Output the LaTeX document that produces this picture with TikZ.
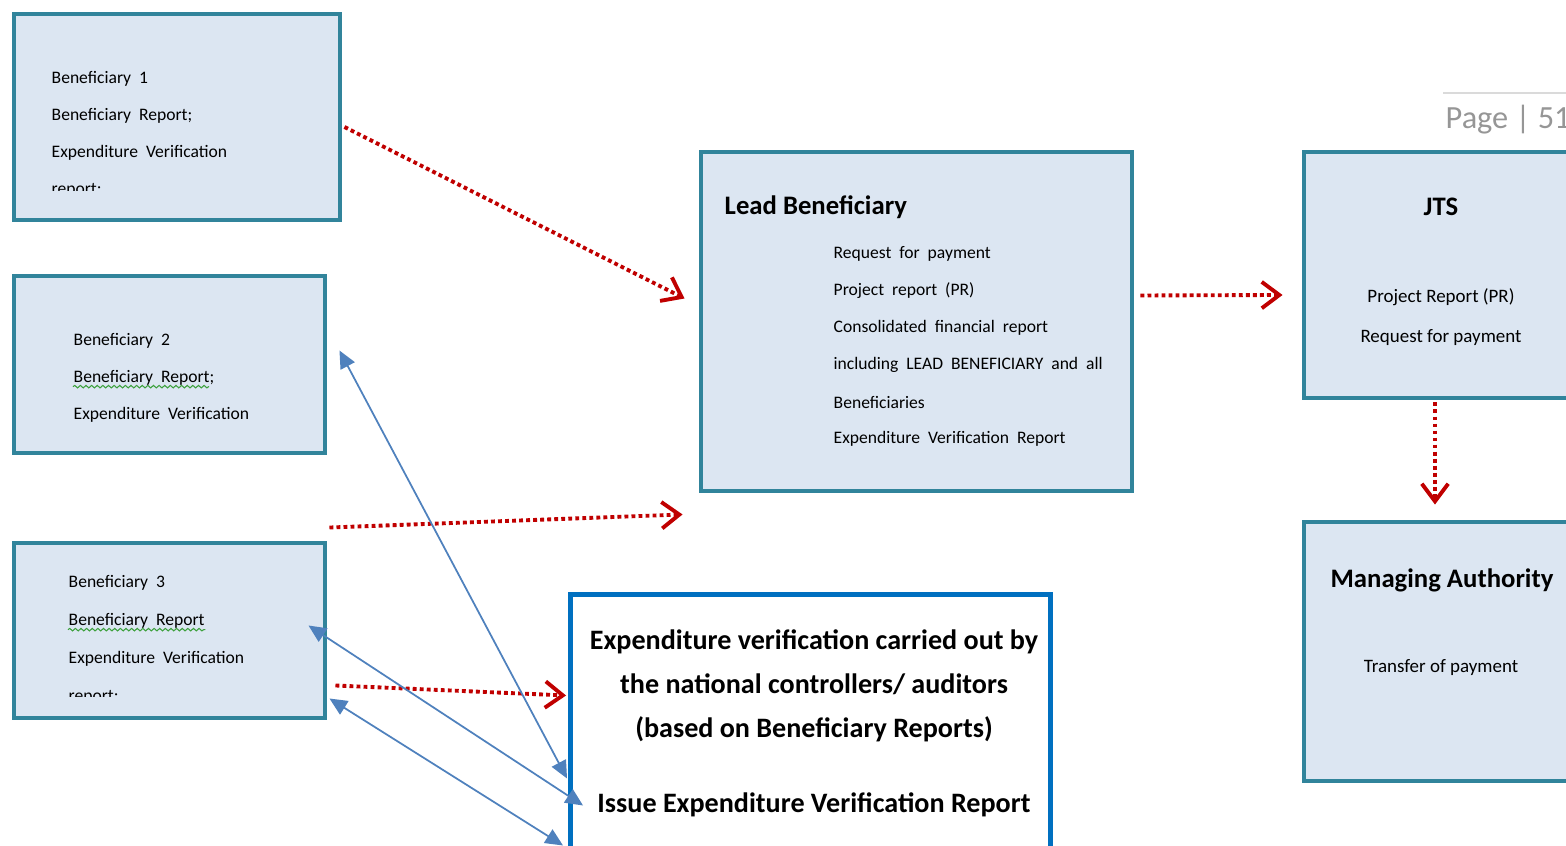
\documentclass[tikz,border=0pt]{standalone}
\usepackage{fontspec}
\setmainfont{Carlito}
\newfontfamily\widefont[WordSpace=2]{Carlito}
\usepackage{tikz}
\usetikzlibrary{arrows.meta, decorations.pathmorphing}
\definecolor{boxline}{RGB}{49,132,155}
\definecolor{boxfill}{RGB}{220,230,242}
\definecolor{evline}{RGB}{0,112,192}
\definecolor{linkblue}{RGB}{79,129,189}
\definecolor{flowred}{RGB}{192,0,0}
\definecolor{pagegray}{RGB}{150,150,150}
\definecolor{spellgreen}{RGB}{60,160,60}

\tikzset{
  benbox/.style={draw=boxline, fill=boxfill, line width=1.4pt, inner sep=0pt},
  evbox/.style={draw=evline, fill=white, line width=1.4pt, inner sep=0pt},
  smalltxt/.style={font=\widefont\fontsize{5}{6}\selectfont, inner sep=0pt},
  midtxt/.style={font=\fontsize{5.4}{6.5}\selectfont, inner sep=0pt},
  headtxt/.style={font=\bfseries\fontsize{7.6}{9}\selectfont, inner sep=0pt},
  evtxt/.style={font=\bfseries\fontsize{8}{12.5}\selectfont, inner sep=0pt, align=center},
  flow/.style={flowred, line width=1.1pt, dash pattern=on 1.1pt off 0.9pt,
    -{Straight Barb[length=5pt,width=7.5pt,line width=1.1pt]}},
  link/.style={linkblue, line width=0.5pt,
    {Triangle[length=5pt,width=4.5pt]}-{Triangle[length=5pt,width=4.5pt]}},
  spell/.style={spellgreen, line width=0.3pt, decorate,
    decoration={snake, amplitude=0.35pt, segment length=1.6pt}}
}

\begin{document}
\begin{tikzpicture}[x=0.1mm, y=-0.1mm]
    \useasboundingbox (0,0) rectangle (1566,846);

    \node[benbox, minimum width=3.26cm, minimum height=2.06cm] (b1) at (177,117) {};
    \node[benbox, minimum width=3.11cm, minimum height=1.77cm] (b2) at (169.5,364.5) {};
    \node[benbox, minimum width=3.11cm, minimum height=1.75cm] (b3) at (169.5,630.5) {};
    \node[benbox, minimum width=4.31cm, minimum height=3.39cm] (lead) at (916.5,321.5) {};
    \node[benbox, minimum width=2.74cm, minimum height=2.46cm] (jts) at (1441,275) {};
    \node[benbox, minimum width=2.74cm, minimum height=2.59cm] (ma) at (1441,651.5) {};
    \node[evbox, minimum width=4.8cm, minimum height=2.86cm] (ev) at (810.5,737.5) {};

    \foreach \txt [count=\i] in {Beneficiary 1, Beneficiary Report;, Expenditure Verification}
        \node[smalltxt, anchor=west] (b1t\i) at (51,42+37*\i) {\txt};
    \begin{scope}
        \clip (14,14) rectangle (340,191);
        \node[smalltxt, anchor=west] (b1t4) at (51,190) {report;};
    \end{scope}

    \foreach \txt [count=\i] in {Beneficiary 2, Beneficiary Report;, Expenditure Verification}
        \node[smalltxt, anchor=west] (b2t\i) at (73,304+37*\i) {\txt};
    \draw[spell] ([shift={(0,4)}]b2t2.base west) -- ([shift={(-6,4)}]b2t2.base east);

    \foreach \txt [count=\i] in {Beneficiary 3, Beneficiary Report, Expenditure Verification}
        \node[smalltxt, anchor=west] (b3t\i) at (68,545+38*\i) {\txt};
    \begin{scope}
        \clip (14,543) rectangle (325,697);
        \node[smalltxt, anchor=west] (b3t4) at (68,697) {report;};
    \end{scope}
    \draw[spell] ([shift={(0,4)}]b3t2.base west) -- ([shift={(0,4)}]b3t2.base east);

    \node[headtxt, anchor=west] (leadh) at (724,207) {Lead Beneficiary};
    \foreach \txt [count=\i] in {Request for payment, Project report (PR),
        Consolidated financial report, including LEAD BENEFICIARY and all,
        Beneficiaries, Expenditure Verification Report}
        \node[smalltxt, anchor=west] (leadt\i) at (833,217+37*\i) {\txt};

    \node[headtxt] (jtsh) at (1441,207) {JTS};
    \foreach \txt [count=\i] in {Project Report (PR), Request for payment}
        \node[midtxt] (jtst\i) at (1441,256+41*\i) {\txt};

    \node[headtxt] (mah) at (1442,580) {Managing Authority};
    \node[midtxt] (mat1) at (1441,668) {Transfer of payment};

    \node[evtxt] (ev1) at (814,686) {Expenditure verification carried out by\\
        the national controllers/ auditors\\(based on Beneficiary Reports)};
    \node[evtxt] (ev2) at (814,805) {Issue Expenditure Verification Report};

    \draw[pagegray!35, line width=0.4pt] (1443,93) -- (1566,93);
    \node[font=\fontsize{9.2}{11}\selectfont, text=pagegray, inner sep=0pt, anchor=west]
        (page) at (1445,120) {Page | 51};

    \draw[flow] ([shift={(2,10)}]b1.east) -- ([shift={(-14,-23)}]lead.west);
    \draw[flow] ([shift={(2,-13)}]b3.north east) -- ([shift={(-16,21)}]lead.south west);
    \draw[flow] ([shift={(8,55)}]b3.east) -- ([shift={(-2,-42)}]ev.west);
    \draw[flow] ([shift={(6,-26)}]lead.east) -- ([shift={(-19,20)}]jts.west);
    \draw[flow] ([shift={(-6,2)}]jts.south) -- ([shift={(-6,-15)}]ma.north);

    \draw[link] ([shift={(12,-14)}]b2.east) -- ([shift={(-1,41)}]ev.west);
    \draw[link] ([shift={(-19,-5)}]b3.east) -- ([shift={(15,68)}]ev.west);
    \draw[link] ([shift={(2,68)}]b3.east) -- ([shift={(-5,108)}]ev.west);
\end{tikzpicture}
\end{document}
